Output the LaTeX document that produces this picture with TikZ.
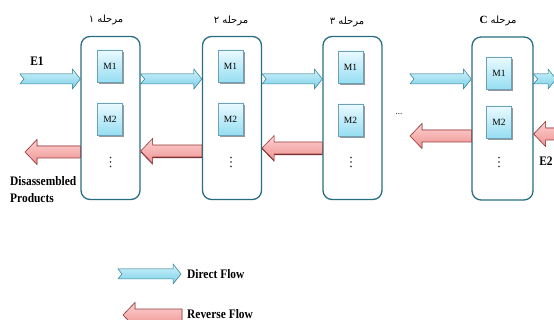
\documentclass[tikz,border=0pt]{standalone}
\usepackage{fontspec}
\setmainfont{Liberation Serif}
\newfontfamily\arabicfont[Script=Arabic]{DejaVu Sans}
\TeXXeTstate=1
\usetikzlibrary{calc}
\definecolor{teal1}{RGB}{40,110,130}
\definecolor{mtop}{RGB}{235,250,255}
\definecolor{mbot}{RGB}{150,222,242}
\definecolor{mbord}{RGB}{110,160,185}
\definecolor{btop}{RGB}{210,244,252}
\definecolor{bbot}{RGB}{120,205,230}
\definecolor{bbord}{RGB}{60,135,155}
\definecolor{rtop}{RGB}{253,210,210}
\definecolor{rbot}{RGB}{240,145,145}
\definecolor{rbord}{RGB}{150,60,60}
\tikzset{
  stage/.style={draw=teal1,line width=1.3pt,rounded corners=9pt,minimum width=59pt,minimum height=163pt,inner sep=0pt},
  mbox/.style={draw=mbord,line width=0.5pt,top color=mtop,bottom color=mbot,minimum width=25pt,minimum height=32pt,inner sep=0pt,font=\fontsize{9.5}{10}\selectfont},
  mshadow/.style={fill=black!40},
  lbl/.style={font=\bfseries\fontsize{13}{15}\selectfont,inner sep=0pt,xscale=0.88},
  stagelbl/.style={font=\arabicfont\fontsize{10}{11}\selectfont,inner sep=0pt},
  dotsn/.style={inner sep=0pt,minimum size=12pt},
  dstyle/.style={draw=bbord,line width=0.5pt,top color=btop,bottom color=bbot},
  dshadow/.style={fill=bbord!70!black},
  rstyle/.style={draw=rbord,line width=0.6pt,top color=rtop,bottom color=rbot},
  rshadow/.style={fill=rbord!70!black}
}
% direct flow: #1 start (tail), #2 end (tip)
\newcommand\dflow[2]{%
  \begin{scope}[xshift=0.8pt,yshift=-1.6pt]
  \path[dshadow] let \p1=#1, \p2=#2 in (\x1,\y1+5pt) -- (\x2-8pt,\y1+5pt) -- (\x2-8pt,\y1+10pt) -- (\x2,\y1) -- (\x2-8pt,\y1-10pt) -- (\x2-8pt,\y1-5pt) -- (\x1,\y1-5pt) -- (\x1+4pt,\y1) -- cycle;
  \end{scope}
  \path[dstyle] let \p1=#1, \p2=#2 in (\x1,\y1+5pt) -- (\x2-8pt,\y1+5pt) -- (\x2-8pt,\y1+10pt) -- (\x2,\y1) -- (\x2-8pt,\y1-10pt) -- (\x2-8pt,\y1-5pt) -- (\x1,\y1-5pt) -- (\x1+4pt,\y1) -- cycle;}
% reverse flow: #1 start (tail, right), #2 end (tip, left)
\newcommand\rflow[2]{%
  \begin{scope}[xshift=0.6pt,yshift=-1.2pt]
  \path[rshadow] let \p1=#1, \p2=#2 in (\x1,\y1+6pt) -- (\x2+12pt,\y1+6pt) -- (\x2+12pt,\y1+12.5pt) -- (\x2,\y1) -- (\x2+12pt,\y1-12.5pt) -- (\x2+12pt,\y1-6pt) -- (\x1,\y1-6pt) -- cycle;
  \end{scope}
  \path[rstyle] let \p1=#1, \p2=#2 in (\x1,\y1+6pt) -- (\x2+12pt,\y1+6pt) -- (\x2+12pt,\y1+12.5pt) -- (\x2,\y1) -- (\x2+12pt,\y1-12.5pt) -- (\x2+12pt,\y1-6pt) -- (\x1,\y1-6pt) -- cycle;}
\newcommand\mnode[3]{%
  \fill[mshadow] ($(#2)+(-11,-14.2)$) rectangle +(25,32);
  \node[mbox] (#1) at (#2) {#3};}
\newcommand\vdotnode[2]{%
  \node[dotsn] (#1) at (#2) {};
  \foreach \k in {-4.5,0,4.5} \fill[black!85] ($(#1.center)+(0,\k)$) circle[radius=0.85pt];}
\begin{document}
\begin{tikzpicture}[x=1pt,y=-1pt]
\useasboundingbox[fill=white] (0,0) rectangle (554,320);
% stages
\node[stage] (b1) at (110.5,118) {};
\node[stage] (b2) at (232,118) {};
\node[stage] (b3) at (352.5,118) {};
\node[stage,minimum width=61pt] (bC) at (502.5,118.5) {};
% stage labels
\node[stagelbl] (l1) at (106,20) {\beginR مرحله ۱\endR};
\node[stagelbl] (l2) at (231,21) {\beginR مرحله ۲\endR};
\node[stagelbl] (l3) at (347,22) {\beginR مرحله ۳\endR};
\node[stagelbl] (lC) at (498,21) {\beginR مرحله {\rmfamily\bfseries\fontsize{11}{11}\selectfont C}\endR};
% machines
\mnode{m11}{110,66}{M1}
\mnode{m12}{110,119}{M2}
\mnode{m21}{230.5,66}{M1}
\mnode{m22}{230.5,119}{M2}
\mnode{m31}{350.5,67}{M1}
\mnode{m32}{350.5,120}{M2}
\mnode{mC1}{499,73}{M1}
\mnode{mC2}{499,122}{M2}
% vertical dots
\vdotnode{d1}{110.5,162}
\vdotnode{d2}{231,162}
\vdotnode{d3}{351,162}
\vdotnode{dC}{499,162}
\node[font=\fontsize{9}{9}\selectfont,inner sep=0pt] (gap) at (399,114) {...};
% free ends
\coordinate (e1) at (20,79);
\coordinate (gapin) at (410,79);
\coordinate (cout) at (556,79);
\coordinate (dp) at (25,152);
\coordinate (gapout) at (410,136);
\coordinate (e2) at (562,134);
% direct flow
\dflow{(e1)}{(b1.west |- e1)}
\dflow{(b1.east |- e1)}{(b2.west |- e1)}
\dflow{(b2.east |- e1)}{(b3.west |- e1)}
\dflow{(gapin)}{(bC.west |- gapin)}
\dflow{(bC.east |- cout)}{(cout)}
% reverse flow
\rflow{(b1.west |- dp)}{(dp)}
\rflow{(b2.west |- 0,151)}{(b1.east |- 0,151)}
\rflow{(b3.west |- 0,148)}{(b2.east |- 0,148)}
\rflow{(bC.west |- gapout)}{(gapout)}
\rflow{(e2)}{(bC.east |- e2)}
% labels
\node[lbl] (E1) at (37,61) {E1};
\node[lbl] (E2) at (546,161) {E2};
\node[lbl,anchor=west,align=left] (dis) at (10,190) {Disassembled\\[2pt]Products};
% legend
\coordinate (lg1s) at (118,274);
\coordinate (lg1e) at (181,274);
\coordinate (lg2s) at (182,315);
\coordinate (lg2e) at (123,315);
\dflow{(lg1s)}{(lg1e)}
\rflow{(lg2s)}{(lg2e)}
\node[lbl,anchor=west] (dfl) at (187,274) {Direct Flow};
\node[lbl,anchor=west] (rfl) at (187,314) {Reverse Flow};
\end{tikzpicture}
\end{document}
